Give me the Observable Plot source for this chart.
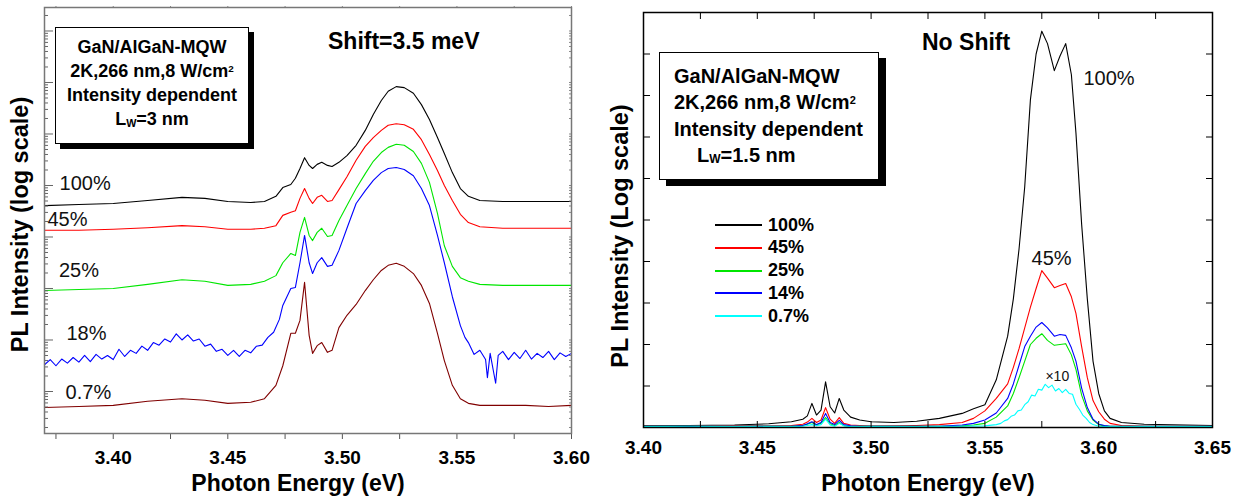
<!DOCTYPE html>
<html><head><meta charset="utf-8">
<script src="https://cdn.jsdelivr.net/npm/d3@7"></script>
<script src="https://cdn.jsdelivr.net/npm/@observablehq/plot@0.6"></script>
<style>
body{margin:0;background:#fff;font-family:"Liberation Sans",Arial,sans-serif;}
#wrap{position:relative;width:1239px;height:500px;overflow:hidden;background:#fff;}
#left,#right{position:absolute;top:0;}
#left{left:0;} #right{left:600px;}
.ov{position:absolute;color:#000;white-space:nowrap;font-weight:bold;z-index:5;}
.box{position:absolute;box-sizing:border-box;background:#fff;border:1.5px solid #000;font-weight:bold;z-index:5;color:#000;}
.box div{white-space:nowrap;}
.box sup{font-size:55%;vertical-align:top;position:relative;top:-2px;}
.box sub{font-size:60%;vertical-align:bottom;position:relative;top:4px;}
.leg{position:absolute;z-index:5;font-weight:bold;font-size:18px;}
.leg .row{position:absolute;left:0;height:22px;display:flex;align-items:center;}
.leg .sw{width:47px;height:2px;margin-right:6px;}
svg text{font-family:"Liberation Sans",Arial,sans-serif;}
.tl text{font-weight:bold;}
</style></head><body>
<div id="wrap">
  <div id="left"></div>
  <div id="right"></div>
</div>
<script>
// ---------- LEFT PANEL DATA (log10 of PL intensity, arbitrary units) ----------
const energyL = [3.370,3.385,3.400,3.415,3.430,3.440,3.450,3.460,3.466,3.471,3.474,3.4775,3.4795,3.4815,3.4835,3.4855,3.487,3.489,3.491,3.4935,3.4955,3.4985,3.502,3.506,3.510,3.5135,3.517,3.520,3.5235,3.527,3.531,3.5345,3.538,3.5415,3.5445,3.548,3.5515,3.555,3.560,3.570,3.580,3.590,3.600];
const left100 = [3.61,3.63,3.65,3.71,3.77,3.75,3.69,3.67,3.69,3.79,3.96,4.02,4.14,4.33,4.54,4.39,4.33,4.41,4.45,4.39,4.37,4.45,4.58,4.78,5.07,5.38,5.65,5.83,5.92,5.90,5.79,5.57,5.28,4.93,4.62,4.25,3.94,3.79,3.71,3.69,3.69,3.69,3.69];
const left45  = [3.13,3.13,3.15,3.18,3.22,3.20,3.15,3.15,3.17,3.22,3.42,3.48,3.51,3.75,3.94,3.75,3.65,3.77,3.81,3.69,3.71,3.92,4.17,4.49,4.76,4.93,5.07,5.17,5.20,5.18,5.09,4.89,4.60,4.29,4.00,3.71,3.44,3.28,3.20,3.17,3.17,3.17,3.17];
const left25  = [1.96,1.98,2.00,2.08,2.17,2.14,2.06,2.08,2.14,2.25,2.50,2.68,2.64,3.09,3.38,3.03,2.93,3.09,3.17,3.01,3.03,3.32,3.61,3.94,4.23,4.47,4.64,4.74,4.80,4.78,4.66,4.43,4.06,3.46,2.83,2.43,2.21,2.14,2.08,2.06,2.06,2.06,2.06];
const left07  = [-0.31,-0.29,-0.27,-0.19,-0.14,-0.17,-0.23,-0.21,-0.14,0.12,0.50,1.13,1.13,1.38,2.12,1.09,0.74,0.89,0.95,0.76,0.80,1.24,1.48,1.69,1.96,2.17,2.35,2.45,2.49,2.43,2.29,2.06,1.71,1.13,0.60,0.12,-0.14,-0.23,-0.27,-0.27,-0.27,-0.29,-0.27];
// the 18% trace is noisy: read on its own, denser energy grid
const energyL18 = [3.3700,3.3725,3.3750,3.3775,3.3800,3.3825,3.3850,3.3875,3.3900,3.3925,3.3950,3.3975,3.4000,3.4025,3.4050,3.4075,3.4100,3.4125,3.4150,3.4175,3.4200,3.4225,3.4250,3.4275,3.4300,3.4325,3.4350,3.4375,3.4400,3.4425,3.4450,3.4475,3.4500,3.4525,3.4550,3.4575,3.4600,3.4625,3.4650,3.4675,3.4700,3.4725,3.474,3.4775,3.4795,3.4815,3.4835,3.4855,3.487,3.489,3.491,3.4935,3.4955,3.4985,3.502,3.506,3.510,3.5135,3.517,3.520,3.5235,3.527,3.531,3.5345,3.538,3.5415,3.5445,3.548,3.5515,3.5535,3.5550,3.5575,3.5600,3.5625,3.5633,3.5645,3.5669,3.5680,3.5700,3.5725,3.5750,3.5775,3.5800,3.5825,3.5850,3.5875,3.5900,3.5925,3.5950,3.5975,3.6000];
const left18  = [0.52,0.62,0.50,0.63,0.55,0.66,0.57,0.70,0.58,0.72,0.63,0.70,0.62,0.82,0.68,0.80,0.74,0.88,0.80,0.95,0.90,1.02,0.96,1.12,1.00,1.10,0.98,1.02,0.88,0.92,0.78,0.82,0.70,0.80,0.68,0.80,0.75,0.88,0.90,1.05,1.15,1.40,1.67,2.00,2.02,2.50,3.03,2.50,2.29,2.50,2.60,2.43,2.45,2.74,3.17,3.65,3.90,4.10,4.25,4.33,4.35,4.31,4.19,3.94,3.61,3.03,2.50,1.84,1.28,1.05,0.95,0.72,0.80,0.62,0.27,0.74,0.16,0.70,0.78,0.62,0.76,0.64,0.80,0.63,0.74,0.66,0.78,0.62,0.75,0.68,0.74];
const namesL  = ["100%","45%","25%","18%","0.7%"];
const colorsL = ["#000000","#ff0000","#00e600","#0000ff","#800000"];
const xTicksL  = [3.375,3.400,3.425,3.450,3.475,3.500,3.525,3.550,3.575,3.600];
const xLabelsL = [3.40,3.45,3.50,3.55,3.60];
// label anchors (energy, log10 intensity)
const labelsL = [
  {text:"100%", x:3.3766, y:4.04},
  {text:"45%",  x:3.3713, y:3.34},
  {text:"25%",  x:3.3763, y:2.35},
  {text:"18%",  x:3.3796, y:1.12},
  {text:"0.7%", x:3.3792, y:-0.02}
];

// ---------- RIGHT PANEL DATA (linear PL intensity, arbitrary units) ----------
const energyR = [3.40,3.42,3.44,3.455,3.465,3.470,3.472,3.474,3.476,3.478,3.480,3.482,3.484,3.486,3.488,3.491,3.495,3.50,3.51,3.52,3.53,3.54,3.545,3.55,3.555,3.560,3.5625,3.565,3.5675,3.570,3.5725,3.575,3.5775,3.5805,3.583,3.5855,3.588,3.590,3.5925,3.595,3.5975,3.600,3.6025,3.605,3.61,3.62,3.65];
const right100 = [0.04,0.05,0.06,0.09,0.14,0.20,0.28,0.58,0.30,0.42,1.10,0.50,0.35,0.70,0.42,0.25,0.18,0.14,0.12,0.15,0.22,0.34,0.45,0.55,1.15,2.2,3.1,4.3,5.8,7.9,9.0,9.55,9.25,8.6,8.95,9.25,8.5,7.1,4.9,3.1,1.6,0.82,0.40,0.22,0.12,0.08,0.05];
const right45  = [0.03,0.03,0.04,0.04,0.05,0.08,0.13,0.22,0.12,0.18,0.48,0.20,0.10,0.24,0.10,0.06,0.05,0.04,0.04,0.05,0.07,0.12,0.22,0.40,0.70,1.05,1.45,1.9,2.4,2.9,3.35,3.78,3.6,3.37,3.42,3.47,3.15,2.75,1.95,1.2,0.65,0.38,0.20,0.10,0.05,0.03,0.03];
const right25  = [0.03,0.03,0.03,0.03,0.03,0.05,0.08,0.12,0.06,0.10,0.24,0.09,0.05,0.12,0.05,0.03,0.03,0.03,0.03,0.03,0.03,0.04,0.06,0.10,0.25,0.52,0.82,1.2,1.6,2.0,2.15,2.26,2.1,1.98,2.0,2.02,1.75,1.4,0.78,0.4,0.18,0.07,0.04,0.03,0.03,0.03,0.03];
const right14  = [0.03,0.03,0.03,0.03,0.03,0.05,0.09,0.14,0.07,0.12,0.34,0.12,0.07,0.17,0.07,0.04,0.03,0.03,0.03,0.03,0.03,0.06,0.10,0.18,0.35,0.7,1.05,1.5,1.95,2.2,2.42,2.53,2.4,2.2,2.24,2.22,1.92,1.6,0.95,0.48,0.20,0.08,0.05,0.03,0.03,0.03,0.03];
// the 0.7% (x10) trace is noisy: own, denser grid
const energyR07 = [3.40,3.42,3.44,3.455,3.465,3.470,3.472,3.474,3.476,3.478,3.480,3.482,3.484,3.486,3.488,3.491,3.50,3.52,3.54,3.55,3.555,3.557,3.5585,3.560,3.5615,3.563,3.5645,3.566,3.5675,3.569,3.5705,3.572,3.5735,3.575,3.5765,3.578,3.5795,3.581,3.5825,3.584,3.5855,3.587,3.5885,3.590,3.5915,3.593,3.5945,3.596,3.5975,3.600,3.605,3.62,3.65];
const right07  = [0.02,0.03,0.02,0.03,0.02,0.03,0.05,0.07,0.04,0.07,0.20,0.06,0.03,0.10,0.04,0.02,0.03,0.02,0.03,0.04,0.07,0.10,0.16,0.19,0.27,0.30,0.40,0.42,0.55,0.62,0.78,0.76,0.92,0.90,1.04,0.96,1.02,0.88,0.94,0.84,0.92,0.82,0.80,0.56,0.44,0.30,0.22,0.12,0.07,0.03,0.02,0.02,0.02];
const namesR  = ["100%","45%","25%","14%","0.7%"];
const colorsR = ["#000000","#ff0000","#00e600","#0000ff","#00ffff"];
const xTicksR  = [3.400,3.425,3.450,3.475,3.500,3.525,3.550,3.575,3.600,3.625,3.650];
const xLabelsR = [3.40,3.45,3.50,3.55,3.60,3.65];
const yTicksR  = [0,1,2,3,4,5,6,7,8,9,10];
const labelsR = [
  {text:"100%", x:3.5933, y:8.41, size:20},
  {text:"45%",  x:3.5705, y:4.07, size:20},
  {text:"×10",  x:3.5766, y:1.23, size:14}
];

// ---------- build tables ----------
const FONT = '"Liberation Sans", Arial, sans-serif';
const seriesL = [left100,left45,left25,left18,left07];
const xsL = [energyL,energyL,energyL,energyL18,energyL];
const seriesR = [right100,right45,right25,right14,right07];
const xsR = [energyR,energyR,energyR,energyR,energyR07];
const tablesL = seriesL.map((v, s) => xsL[s].map((e,i) => ({x:e, y:10 ** v[i]})));
const tablesR = seriesR.map((v, s) => xsR[s].map((e,i) => ({x:e, y:v[i]})));

const yDomL = [10 ** -0.8155, 10 ** 7.456];
const majorL = d3.range(0, 8).map(e => 10 ** e);
const minorL = d3.range(-1, 8).flatMap(e => d3.range(2, 10).map(k => k * 10 ** e))
  .filter(v => v >= yDomL[0] && v <= yDomL[1]);
const blank = () => "";

const leftPlot = Plot.plot({
  width: 600, height: 500,
  marginLeft: 44, marginRight: 29, marginTop: 7, marginBottom: 67,
  style: {fontFamily: FONT, background: "transparent", overflow: "visible"},
  x: {domain: [3.37, 3.60]},
  y: {type: "log", domain: yDomL},
  marks: [
    ...tablesL.map((t, i) => Plot.line(t, {x: "x", y: "y", stroke: colorsL[i], strokeWidth: 1.1})),
    Plot.axisY({ticks: majorL, tickSize: -9, tickFormat: blank, label: null, stroke: "#666"}),
    Plot.axisY({ticks: minorL, tickSize: -4, tickFormat: blank, label: null, stroke: "#666"}),
    Plot.axisY({anchor: "right", ticks: majorL.concat(minorL), tickSize: -3, tickFormat: blank, label: null, stroke: "#888"}),
    Plot.axisX({ticks: xTicksL, tickSize: 6, tickFormat: blank, label: null, stroke: "#555"}),
    Plot.axisX({anchor: "top", ticks: xTicksL, tickSize: 2, tickFormat: blank, label: null, stroke: "#888"}),
    Plot.axisX({ticks: xLabelsL, tickSize: 0, tickPadding: 17, tickFormat: d3.format(".2f"), fontSize: 19, fontWeight: "bold", label: null, className: "tl"}),
    Plot.frame({stroke: "#777", strokeWidth: 1.5}),
    Plot.text(labelsL, {x: "x", y: d => 10 ** d.y, text: "text", textAnchor: "start", fontSize: 20, fill: "#111"}),
    Plot.text(["PL Intensity (log scale)"], {frameAnchor: "left", text: d => d, rotate: -90, textAnchor: "middle", lineAnchor: "middle", dx: -24, dy: 4, fontSize: 23.5, fontWeight: "bold"}),
    Plot.text(["Photon Energy (eV)"], {frameAnchor: "bottom", text: d => d, textAnchor: "middle", lineAnchor: "middle", dx: -10, dy: 50, fontSize: 23, fontWeight: "bold"})
  ]
});
document.getElementById("left").append(leftPlot);

const rightPlot = Plot.plot({
  width: 639, height: 500,
  marginLeft: 43, marginRight: 27, marginTop: 12, marginBottom: 73,
  style: {fontFamily: FONT, background: "transparent", overflow: "visible"},
  x: {domain: [3.40, 3.65]},
  y: {domain: [0, 10]},
  marks: [
    ...tablesR.map((t, i) => Plot.line(t, {x: "x", y: "y", stroke: colorsR[i], strokeWidth: 1.1})),
    Plot.axisY({ticks: yTicksR, tickSize: -7, tickFormat: blank, label: null, stroke: "#000"}),
    Plot.axisY({anchor: "right", ticks: yTicksR, tickSize: -7, tickFormat: blank, label: null, stroke: "#000"}),
    Plot.axisX({ticks: xTicksR, tickSize: -6, tickFormat: blank, label: null, stroke: "#000"}),
    Plot.axisX({anchor: "top", ticks: xTicksR, tickSize: -6, tickFormat: blank, label: null, stroke: "#000"}),
    Plot.axisX({ticks: xLabelsR, tickSize: 0, tickPadding: 13, tickFormat: d3.format(".2f"), fontSize: 19, fontWeight: "bold", label: null, className: "tl"}),
    Plot.frame({stroke: "#000", strokeWidth: 1.5}),
    Plot.text(labelsR, {x: "x", y: "y", text: "text", textAnchor: "start", fontSize: d => d.size, fill: "#111"}),
    Plot.text(["PL Intensity (Log scale)"], {frameAnchor: "left", text: d => d, rotate: -90, textAnchor: "middle", lineAnchor: "middle", dx: -23, dy: 16, fontSize: 23.5, fontWeight: "bold"}),
    Plot.text(["Photon Energy (eV)"], {frameAnchor: "bottom", text: d => d, textAnchor: "middle", lineAnchor: "middle", dx: 0, dy: 56, fontSize: 23, fontWeight: "bold"})
  ]
});
document.getElementById("right").append(rightPlot);

// ---------- annotations ----------
const wrap = document.getElementById("wrap");
function addDiv(html, cls, css) {
  const d = document.createElement("div");
  d.className = cls; d.innerHTML = html; Object.assign(d.style, css); wrap.append(d); return d;
}
addDiv("Shift=3.5 meV", "ov", {left: "328px", top: "30px", fontSize: "23px", lineHeight: "23px"});
addDiv("No Shift", "ov", {left: "922px", top: "31px", fontSize: "23px", lineHeight: "23px"});

addDiv(
  "<div>GaN/AlGaN-MQW</div><div>2K,266 nm,8 W/cm<sup>2</sup></div><div>Intensity dependent</div><div>L<sub>W</sub>=3 nm</div>",
  "box",
  {left: "55px", top: "27px", width: "194px", height: "117px", boxShadow: "5px 5px 0 #000",
   textAlign: "center", fontSize: "18px", lineHeight: "24px", paddingTop: "7px"});
addDiv(
  "<div>GaN/AlGaN-MQW</div><div>2K,266 nm,8 W/cm<sup>2</sup></div><div>Intensity dependent</div><div style='padding-left:23px'>L<sub>W</sub>=1.5 nm</div>",
  "box",
  {left: "659px", top: "52px", width: "220px", height: "128px", boxShadow: "7px 6px 0 #000",
   textAlign: "left", fontSize: "20px", lineHeight: "26.3px", paddingTop: "10px", paddingLeft: "14px"});

const leg = addDiv("", "leg", {left: "715px", top: "214px"});
namesR.forEach((n, i) => {
  const r = document.createElement("div");
  r.className = "row";
  r.style.top = (i * 22.75) + "px";
  r.innerHTML = `<span class="sw" style="background:${colorsR[i]}"></span><span>${n}</span>`;
  leg.append(r);
});
</script>
</body></html>
